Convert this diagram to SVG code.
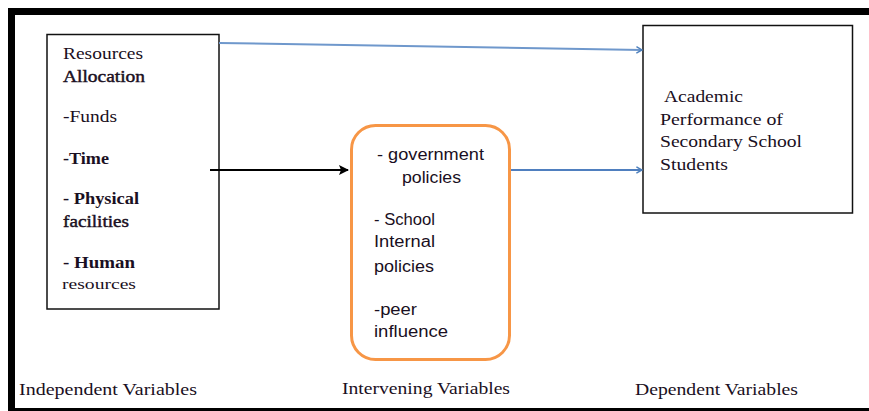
<svg xmlns="http://www.w3.org/2000/svg" width="869" height="411" viewBox="0 0 869 411">
<defs>
<style>
.serif{font-family:"Liberation Serif","Times New Roman",serif;font-size:17px;fill:#1a0f22}
.sans{font-family:"Liberation Sans",Arial,sans-serif;font-size:16px;fill:#1a0f22}
.b{font-weight:bold}
.sb{stroke:#1a0f22;stroke-width:0.45}
.box{fill:#fff;stroke:#111;stroke-width:1.5}
</style>
<marker id="ahBlack" viewBox="0 0 10 10" refX="9" refY="5" markerWidth="10" markerHeight="10" markerUnits="userSpaceOnUse" orient="auto">
<path d="M0,0 L10,5 L0,10 L2,5 Z" fill="#000"/>
</marker>
<marker id="ahBlue" viewBox="0 0 10 10" refX="9" refY="5" markerWidth="8" markerHeight="8" markerUnits="userSpaceOnUse" orient="auto">
<path d="M2,1 L9,5 L2,9" fill="none" stroke="#4f81bd" stroke-width="1.8"/>
</marker>
</defs>
<rect width="869" height="411" fill="#fff"/>
<g id="frame" fill="#000">
<rect x="8" y="8" width="861" height="7"/>
<rect x="8" y="8" width="7" height="403"/>
<rect x="8" y="408" width="861" height="3"/>
</g>
<g id="independent">
<rect class="box" x="47" y="34.5" width="172" height="274.5"/>
<text class="serif" x="63" y="59" textLength="80" lengthAdjust="spacingAndGlyphs">Resources</text>
<text class="serif sb" x="63" y="82" textLength="82" lengthAdjust="spacingAndGlyphs">Allocation</text>
<text class="serif" x="63" y="122" textLength="54" lengthAdjust="spacingAndGlyphs">-Funds</text>
<text class="serif b" x="63" y="164" textLength="46" lengthAdjust="spacingAndGlyphs">-Time</text>
<text class="serif b" x="63" y="204" textLength="76" lengthAdjust="spacingAndGlyphs">- Physical</text>
<text class="serif sb" x="63" y="227" textLength="66" lengthAdjust="spacingAndGlyphs">facilities</text>
<text class="serif b" x="63" y="268" textLength="72" lengthAdjust="spacingAndGlyphs">- Human</text>
<text class="serif" x="62" y="289" style="font-size:15px" textLength="74" lengthAdjust="spacingAndGlyphs">resources</text>
</g>
<g id="intervening">
<rect x="351.5" y="125.5" width="158" height="234" rx="24" ry="24" fill="#fff" stroke="#f79646" stroke-width="3"/>
<text class="sans" x="377" y="160" textLength="107" lengthAdjust="spacingAndGlyphs">- government</text>
<text class="sans" x="402" y="183" textLength="59" lengthAdjust="spacingAndGlyphs">policies</text>
<text class="sans" x="374" y="225" textLength="61" lengthAdjust="spacingAndGlyphs">- School</text>
<text class="sans" x="374" y="247" textLength="61" lengthAdjust="spacingAndGlyphs">Internal</text>
<text class="sans" x="374" y="272" textLength="60" lengthAdjust="spacingAndGlyphs">policies</text>
<text class="sans" x="374" y="315" textLength="43" lengthAdjust="spacingAndGlyphs">-peer</text>
<text class="sans" x="374" y="337" textLength="74" lengthAdjust="spacingAndGlyphs">influence</text>
</g>
<g id="dependent">
<rect class="box" x="643" y="25.5" width="209.5" height="187.5"/>
<text class="serif" x="664" y="102" textLength="79" lengthAdjust="spacingAndGlyphs">Academic</text>
<text class="serif" x="660" y="125" textLength="123" lengthAdjust="spacingAndGlyphs">Performance of</text>
<text class="serif" x="660" y="147" textLength="142" lengthAdjust="spacingAndGlyphs">Secondary School</text>
<text class="serif" x="660" y="170" textLength="68" lengthAdjust="spacingAndGlyphs">Students</text>
</g>
<g id="connectors">
<line x1="219" y1="43" x2="642" y2="50" stroke="#6f98cc" stroke-width="2" marker-end="url(#ahBlue)"/>
<line x1="210" y1="170" x2="348" y2="170" stroke="#000" stroke-width="2" marker-end="url(#ahBlack)"/>
<line x1="511" y1="170" x2="642" y2="170" stroke="#4f7fbf" stroke-width="2" marker-end="url(#ahBlue)"/>
</g>
<g id="labels">
<text class="serif" x="19" y="395" textLength="178" lengthAdjust="spacingAndGlyphs">Independent Variables</text>
<text class="serif" x="342" y="394" textLength="168" lengthAdjust="spacingAndGlyphs">Intervening Variables</text>
<text class="serif" x="635" y="395" textLength="163" lengthAdjust="spacingAndGlyphs">Dependent Variables</text>
</g>
</svg>
